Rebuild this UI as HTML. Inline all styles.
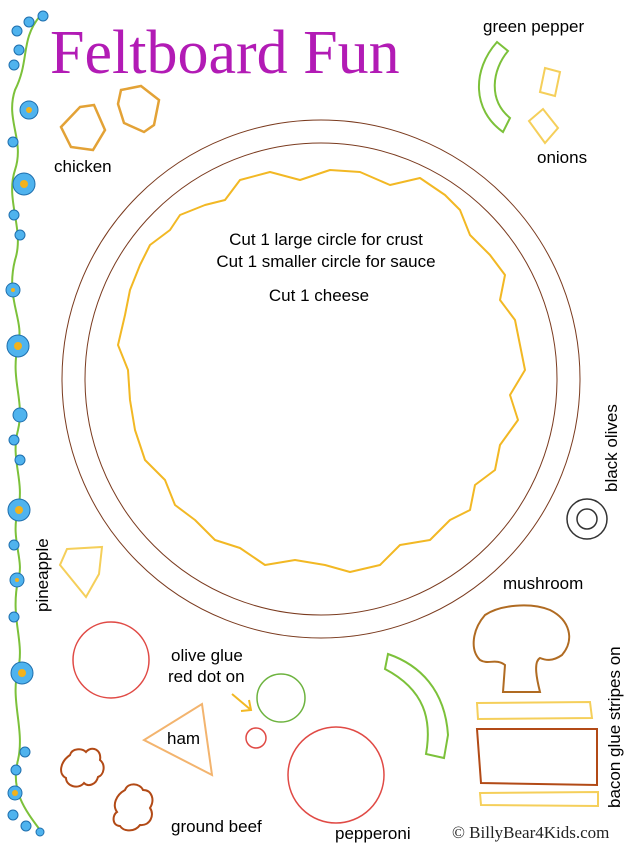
<!DOCTYPE html>
<html><head><meta charset="utf-8"><style>
html,body{margin:0;padding:0;background:#fff;}
svg{display:block}
text{font-family:"Liberation Sans",Arial,sans-serif;font-size:17px;fill:#000}
</style></head><body>
<svg width="640" height="850" viewBox="0 0 640 850" xmlns="http://www.w3.org/2000/svg">
<text x="50" y="73" style="font-family:'Liberation Serif',serif;font-size:62px;fill:#b21bb5">Feltboard Fun</text>
<!-- vine -->
<path d="M40,16 C20,40 30,60 15,90 C5,120 25,140 15,170 C5,200 25,230 15,260 C5,300 25,320 18,345 C10,380 25,400 18,430 C10,460 25,480 18,510 C10,540 25,560 18,580 C10,620 25,640 18,670 C10,700 25,730 18,760 C10,790 25,810 40,830" fill="none" stroke="#7cc13a" stroke-width="2"/>
<g fill="#4fb3ee" stroke="#1f6fae" stroke-width="1">
<circle cx="17" cy="31" r="5"/><circle cx="29" cy="22" r="5"/><circle cx="43" cy="16" r="5"/><circle cx="19" cy="50" r="5"/><circle cx="14" cy="65" r="5"/>
<circle cx="29" cy="110" r="9"/><circle cx="13" cy="142" r="5"/><circle cx="24" cy="184" r="11"/>
<circle cx="14" cy="215" r="5"/><circle cx="20" cy="235" r="5"/><circle cx="13" cy="290" r="7"/><circle cx="18" cy="346" r="11"/>
<circle cx="20" cy="415" r="7"/><circle cx="14" cy="440" r="5"/><circle cx="20" cy="460" r="5"/><circle cx="19" cy="510" r="11"/>
<circle cx="14" cy="545" r="5"/><circle cx="17" cy="580" r="7"/><circle cx="14" cy="617" r="5"/><circle cx="22" cy="673" r="11"/>
<circle cx="25" cy="752" r="5"/><circle cx="16" cy="770" r="5"/><circle cx="15" cy="793" r="7"/><circle cx="13" cy="815" r="5"/><circle cx="26" cy="826" r="5"/><circle cx="40" cy="832" r="4"/>
</g>
<g fill="#f2b21c"><circle cx="29" cy="110" r="3"/><circle cx="24" cy="184" r="4"/><circle cx="18" cy="346" r="4"/><circle cx="19" cy="510" r="4"/><circle cx="22" cy="673" r="4"/><circle cx="15" cy="793" r="3"/><circle cx="13" cy="290" r="2"/><circle cx="17" cy="580" r="2"/></g>
<!-- chicken -->
<polygon points="80,107 94,105 105,130 93,150 71,147 61,127" fill="none" stroke="#e3a236" stroke-width="2.5"/>
<polygon points="121,90 141,86 159,100 154,125 144,132 124,123 118,104" fill="none" stroke="#e3a236" stroke-width="2.5"/>
<text x="54" y="172">chicken</text>
<!-- green pepper / onions -->
<text x="483" y="32">green pepper</text>
<path d="M497,42 L508,51 C492,70 488,100 510,118 L503,132 C472,110 472,70 497,42 Z" fill="none" stroke="#7cc13a" stroke-width="2"/>
<polygon points="545,68 560,72 555,96 540,92" fill="none" stroke="#f5cf5a" stroke-width="2"/>
<polygon points="529,121 543,109 558,128 545,143" fill="none" stroke="#f5cf5a" stroke-width="2"/>
<text x="537" y="163">onions</text>
<!-- pizza circles -->
<circle cx="321" cy="379" r="259" fill="none" stroke="#7a3a1e" stroke-width="1"/>
<circle cx="321" cy="379" r="236" fill="none" stroke="#7a3a1e" stroke-width="1"/>
<polygon points="240,180 270,172 300,180 330,170 360,172 390,185 420,178 445,195 460,210 470,235 490,255 505,275 500,300 515,320 520,345 525,370 510,395 518,420 500,445 495,470 475,485 470,510 450,520 430,540 400,545 380,565 350,572 325,565 295,560 265,565 240,548 215,540 195,520 175,505 165,480 145,460 135,430 130,400 128,370 118,345 125,315 130,290 140,265 150,245 170,230 180,215 205,205 225,200" fill="none" stroke="#f2b824" stroke-width="2" stroke-linejoin="round"/>
<text x="326" y="245" text-anchor="middle">Cut 1 large circle for crust</text>
<text x="326" y="267" text-anchor="middle">Cut 1 smaller circle for sauce</text>
<text x="319" y="301" text-anchor="middle">Cut 1 cheese</text>
<!-- black olives -->
<text transform="translate(617,492) rotate(-90)">black olives</text>
<circle cx="587" cy="519" r="20" fill="none" stroke="#333" stroke-width="1.5"/>
<circle cx="587" cy="519" r="10" fill="none" stroke="#333" stroke-width="1.5"/>
<!-- pineapple -->
<text transform="translate(48,612) rotate(-90)">pineapple</text>
<polygon points="67,549 102,547 99,574 86,597 60,565" fill="none" stroke="#f5cf5a" stroke-width="2"/>
<!-- mushroom -->
<text x="503" y="589">mushroom</text>
<path d="M503,692 L505,665 C496,658 488,665 480,660 C470,650 472,630 485,615 C500,605 530,602 550,610 C570,620 575,640 562,655 C552,662 545,660 540,658 C533,662 537,680 540,692 Z" fill="none" stroke="#b06b22" stroke-width="2"/>
<polygon points="477,703 590,702 592,718 478,719" fill="none" stroke="#f5cf5a" stroke-width="2"/>
<polygon points="477,729 597,729 597,785 481,783" fill="none" stroke="#b24a16" stroke-width="2"/>
<polygon points="480,793 598,792 598,806 481,805" fill="none" stroke="#f5cf5a" stroke-width="2"/>
<text transform="translate(620,808) rotate(-90)">bacon glue stripes on</text>
<!-- green curved -->
<path d="M388,654 C420,665 445,690 448,735 L444,758 L426,754 C432,720 425,690 385,669 Z" fill="none" stroke="#7cc13a" stroke-width="2"/>
<!-- circles -->
<circle cx="111" cy="660" r="38" fill="none" stroke="#e04a45" stroke-width="1.5"/>
<text x="171" y="661">olive glue</text>
<text x="168" y="682">red dot on</text>
<path d="M232,694 L251,710 M241,711 L251,710 L249,700" fill="none" stroke="#f2b824" stroke-width="2"/>
<circle cx="281" cy="698" r="24" fill="none" stroke="#6db33f" stroke-width="1.5"/>
<circle cx="256" cy="738" r="10" fill="none" stroke="#e04a45" stroke-width="1.5"/>
<circle cx="336" cy="775" r="48" fill="none" stroke="#e04a45" stroke-width="1.5"/>
<polygon points="202,704 212,775 144,740" fill="none" stroke="#f3b46e" stroke-width="2"/>
<text x="167" y="744">ham</text>
<path d="M70,755 C72,748 82,748 86,752 C92,745 102,750 100,760 C106,765 104,775 98,777 C96,785 88,787 84,783 C78,790 66,786 66,778 C58,774 60,762 70,755 Z" fill="none" stroke="#b24a16" stroke-width="2"/>
<path d="M125,790 C128,782 140,783 143,790 C152,790 155,800 150,808 C155,815 150,826 140,825 C135,832 124,832 120,826 C112,826 112,815 117,812 C112,805 116,795 125,790 Z" fill="none" stroke="#b24a16" stroke-width="2"/>
<text x="171" y="832">ground beef</text>
<text x="335" y="839">pepperoni</text>
<text x="452" y="838" style="font-family:'Liberation Serif',serif;font-size:17px;fill:#222">© BillyBear4Kids.com</text>
</svg>
</body></html>
